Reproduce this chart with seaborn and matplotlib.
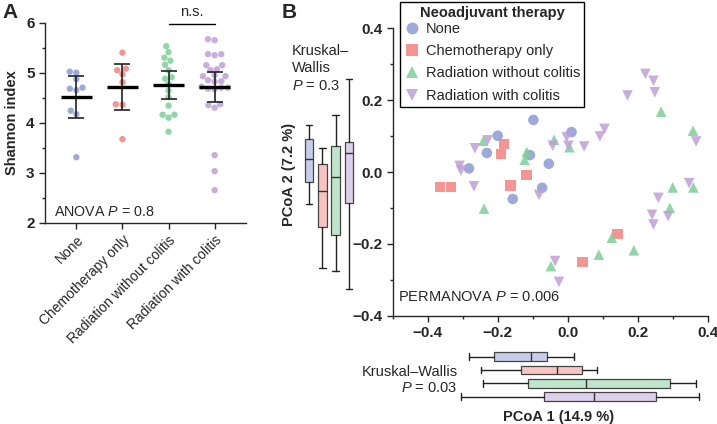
import numpy as np
import pandas as pd
import matplotlib
matplotlib.use("Agg")
import matplotlib.pyplot as plt
import matplotlib.ticker as mticker
from matplotlib.lines import Line2D
import seaborn as sns

groups = ["None", "Chemotherapy only", "Radiation without colitis", "Radiation with colitis"]
colors = ["#8c9bd3", "#f2837f", "#7dcf98", "#bf9fd8"]
light = ["#c6cdea", "#f8c3c1", "#bfe6cb", "#ddd0ec"]
markers = ["o", "s", "^", "v"]

# panel A - Shannon index per patient
shannon_none = [5.00, 5.02, 4.87, 4.70, 4.65, 4.68, 4.24, 4.17, 3.31]
shannon_chemo = [5.40, 5.08, 5.05, 4.97, 4.81, 4.37, 4.36, 3.67]
shannon_rad = [5.53, 5.41, 5.30, 5.24, 5.16, 5.05, 4.91, 4.88, 4.77, 4.64,
               4.51, 4.34, 4.16, 4.16, 4.10, 3.82]
shannon_col = [5.67, 5.65, 5.37, 5.37, 5.35, 5.15, 5.15, 5.07, 5.05, 4.95,
               4.93, 4.93, 4.85, 4.83, 4.82, 4.72, 4.70, 4.70, 4.68, 4.67,
               4.37, 4.35, 4.30, 3.35, 3.03, 2.65]
t_crit = [2.306, 2.365, 2.131, 2.060]  # 95% t, df = n-1

# panel B - PCoA coordinates
pc_none = [(-0.098, 0.145), (-0.200, 0.101), (0.011, 0.111), (-0.231, 0.053), (-0.108, 0.047),
           (-0.054, 0.023), (-0.282, 0.010), (-0.073, -0.044), (-0.157, -0.075)]
pc_chemo = [(-0.182, 0.078), (-0.191, 0.050), (-0.117, -0.008), (-0.163, -0.037),
            (-0.365, -0.042), (-0.333, -0.042), (0.143, -0.172), (0.042, -0.250)]
pc_rad = [(-0.241, 0.087), (-0.117, 0.056), (-0.123, 0.034), (-0.239, -0.102), (-0.039, 0.090),
          (0.005, 0.069), (0.267, 0.168), (0.358, 0.115), (0.300, -0.043), (0.359, -0.043),
          (0.292, -0.100), (0.126, -0.183), (0.089, -0.230), (0.189, -0.218), (-0.048, -0.262)]
pc_col = [(-0.265, 0.066), (-0.229, 0.088), (-0.309, 0.017), (-0.305, 0.004), (-0.268, -0.040),
          (-0.082, -0.064), (0.222, 0.273), (0.245, 0.254), (0.249, 0.222), (0.171, 0.213),
          (0.105, 0.120), (0.092, 0.099), (-0.003, 0.097), (-0.043, 0.073), (0.002, 0.073),
          (0.047, 0.071), (0.367, 0.085), (0.347, -0.031), (0.259, -0.072), (0.241, -0.119),
          (0.245, -0.146), (0.287, -0.123), (-0.036, -0.248), (-0.025, -0.306)]

# box stats: whislo, q1, med, q3, whishi
pc2_box = [(-0.090, -0.028, 0.035, 0.093, 0.132),
           (-0.268, -0.154, -0.052, 0.023, 0.067),
           (-0.276, -0.176, -0.015, 0.073, 0.159),
           (-0.325, -0.086, 0.054, 0.083, 0.260)]
pc1_box = [(-0.281, -0.211, -0.104, -0.060, 0.019),
           (-0.248, -0.134, -0.031, 0.041, 0.085),
           (-0.241, -0.113, 0.052, 0.293, 0.367),
           (-0.305, -0.067, 0.076, 0.252, 0.375)]

sns.set_style("ticks")
plt.rcParams["font.family"] = ["Liberation Sans", "DejaVu Sans"]
plt.rcParams["mathtext.fontset"] = "custom"
plt.rcParams["mathtext.rm"] = "Liberation Sans"
plt.rcParams["mathtext.it"] = "Liberation Sans:italic"
plt.rcParams["axes.linewidth"] = 1.0
plt.rcParams["xtick.major.width"] = 1.0
plt.rcParams["ytick.major.width"] = 1.0
plt.rcParams["xtick.minor.width"] = 1.0
plt.rcParams["ytick.minor.width"] = 1.0
plt.rcParams["xtick.major.size"] = 4
plt.rcParams["ytick.major.size"] = 4
plt.rcParams["xtick.minor.size"] = 2.5
plt.rcParams["ytick.minor.size"] = 2.5

W, H = 717, 424
fig = plt.figure(figsize=(W / 100, H / 100), dpi=100)


def fx(x):
    return x / W


def fy(y):
    return 1 - y / H


def minus_fmt(v, pos):
    return f"{v:.1f}".replace("-", "\u2212")


# ---------------- panel A
axA = fig.add_axes([fx(45), fy(222.7), fx(246) - fx(45), fy(22.7) - fy(222.7)])
vals = [shannon_none, shannon_chemo, shannon_rad, shannon_col]
dfA = pd.DataFrame({
    "group": np.repeat(groups, [len(v) for v in vals]),
    "shannon": np.concatenate(vals),
})
sns.swarmplot(data=dfA, x="group", y="shannon", hue="group", order=groups,
              palette=colors, size=4.6, legend=False, ax=axA, alpha=0.85, linewidth=0)
for i, v in enumerate(vals):
    v = np.array(v)
    m = v.mean()
    half = t_crit[i] * v.std(ddof=1) / np.sqrt(len(v))
    axA.hlines(m, i - 0.34, i + 0.34, color="black", lw=2.4, zorder=5)
    axA.errorbar(i, m, yerr=half, fmt="none", ecolor="#222222", elinewidth=1.2,
                 capsize=5.8, capthick=1.2, zorder=4)
axA.set_xlim(-0.68, 3.68)
axA.set_ylim(2, 6)
axA.set_yticks([2, 3, 4, 5, 6])
axA.yaxis.set_minor_locator(mticker.MultipleLocator(0.5))
axA.set_xlabel("")
axA.set_ylabel("Shannon index", fontsize=10.5, fontweight="bold", labelpad=5)
axA.tick_params(axis="y", labelsize=11)
for lab in axA.get_yticklabels():
    lab.set_fontweight("bold")
axA.set_xticks(range(4))
axA.set_xticklabels(groups, rotation=45, ha="right", rotation_mode="anchor", fontsize=10)
sns.despine(ax=axA)
axA.plot([2, 3], [5.97, 5.97], color="black", lw=1.0, clip_on=False)
axA.text(2.5, 6.07, "n.s.", ha="center", va="bottom", fontsize=10.5)
axA.text(-0.48, 2.14, "ANOVA $P$ = 0.8", fontsize=10.3, va="baseline")

# ---------------- panel B scatter
axB = fig.add_axes([fx(392.7), fy(315.7), fx(707.7) - fx(392.7), fy(28.3) - fy(315.7)])
pts = [pc_none, pc_chemo, pc_rad, pc_col]
dfB = pd.DataFrame({
    "group": np.repeat(groups, [len(p) for p in pts]),
    "pc1": [p[0] for g in pts for p in g],
    "pc2": [p[1] for g in pts for p in g],
})
sns.scatterplot(data=dfB, x="pc1", y="pc2", hue="group", style="group",
                hue_order=groups, style_order=groups, markers=markers,
                palette=colors, s=58, alpha=0.85, linewidth=0, ax=axB, legend=False)
axB.set_xlim(-0.5, 0.4)
axB.set_ylim(-0.4, 0.4)
axB.set_xticks([-0.4, -0.2, 0.0, 0.2, 0.4])
axB.set_yticks([-0.4, -0.2, 0.0, 0.2, 0.4])
axB.xaxis.set_minor_locator(mticker.MultipleLocator(0.1))
axB.yaxis.set_minor_locator(mticker.MultipleLocator(0.1))
axB.xaxis.set_major_formatter(mticker.FuncFormatter(minus_fmt))
axB.yaxis.set_major_formatter(mticker.FuncFormatter(minus_fmt))
axB.tick_params(labelsize=11)
for lab in axB.get_xticklabels() + axB.get_yticklabels():
    lab.set_fontweight("bold")
axB.set_xlabel("")
axB.set_ylabel("")
sns.despine(ax=axB)
axB.text(-0.485, -0.36, "PERMANOVA $P$ = 0.006", fontsize=10.5, va="baseline")

handles = [Line2D([], [], marker=markers[i], color=colors[i], linestyle="none",
                  markersize=8.5, alpha=0.85, markeredgewidth=0) for i in range(4)]
leg = fig.legend(handles, groups, title="Neoadjuvant therapy", loc="upper left",
                 bbox_to_anchor=(fx(400), fy(1.7)), bbox_transform=fig.transFigure,
                 fontsize=10.5, title_fontproperties={"weight": "bold", "size": 10.5},
                 frameon=True, fancybox=False, edgecolor="black", framealpha=1,
                 labelspacing=0.56, handletextpad=0.35, borderpad=0.3,
                 handlelength=1.1, borderaxespad=0)
leg.get_frame().set_linewidth(1.0)
leg._legend_box.sep = 1.5


def box_stats(rows):
    return [dict(whislo=r[0], q1=r[1], med=r[2], q3=r[3], whishi=r[4], fliers=[]) for r in rows]


box_kw = dict(widths=0.65, patch_artist=True, showfliers=False, capwidths=0.5,
              medianprops=dict(color="#333333", lw=1.0),
              whiskerprops=dict(color="#222222", lw=1.0),
              capprops=dict(color="#222222", lw=1.0),
              boxprops=dict(edgecolor="#444444", lw=0.9))

# ---------------- left marginal boxes (PCoA 2)
axL = fig.add_axes([fx(299.7), fy(315.7), 58.7 / W, fy(28.3) - fy(315.7)], sharey=axB)
bl = axL.bxp(box_stats(pc2_box), positions=range(4), orientation="vertical", **box_kw)
for patch, c in zip(bl["boxes"], light):
    patch.set_facecolor(c)
axL.set_xlim(-0.7, 3.7)
axL.axis("off")

# ---------------- bottom marginal boxes (PCoA 1)
axBot = fig.add_axes([fx(392.7), fy(406), fx(707.7) - fx(392.7), 58.7 / H], sharex=axB)
bb = axBot.bxp(box_stats(pc1_box), positions=[3, 2, 1, 0], orientation="horizontal", **box_kw)
for patch, c in zip(bb["boxes"], light):
    patch.set_facecolor(c)
axBot.set_ylim(-0.7, 3.7)
axBot.axis("off")

# ---------------- panel labels and annotations
fig.text(fx(2), fy(18), "A", fontsize=15, fontweight="bold", va="baseline")
fig.text(fx(282), fy(18), "B", fontsize=15, fontweight="bold", va="baseline")
fig.text(fx(291.5), fy(55), "Kruskal\u2013", fontsize=10.5, va="baseline")
fig.text(fx(291.5), fy(72.5), "Wallis", fontsize=10.5, va="baseline")
fig.text(fx(291.5), fy(90.5), "$P$ = 0.3", fontsize=10.5, va="baseline")
fig.text(fx(288.5), fy(174), "PCoA 2 (7.2 %)", fontsize=10.5, fontweight="bold",
         rotation=90, ha="center", va="center")
fig.text(fx(457.5), fy(375.5), "Kruskal\u2013Wallis", fontsize=10.5, ha="right", va="baseline")
fig.text(fx(457.5), fy(392), "$P$ = 0.03", fontsize=10.5, ha="right", va="baseline")
fig.text(fx(559), fy(420.5), "PCoA 1 (14.9 %)", fontsize=10.5, fontweight="bold",
         ha="center", va="baseline")

fig.savefig("out.png", dpi=100)
